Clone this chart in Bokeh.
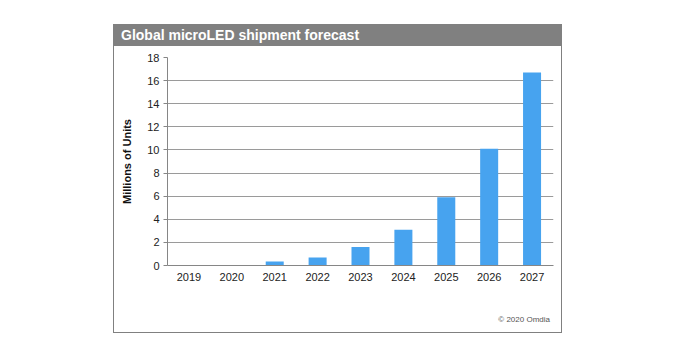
from bokeh.plotting import figure
from bokeh.models import Div, ColumnDataSource, Range1d, SingleIntervalTicker, FactorRange
from bokeh.layouts import column
from bokeh.embed import file_html
from bokeh.resources import INLINE

title = "Global microLED shipment forecast"
y_label = "Millions of Units"
source_note = "© 2020 Omdia"
years = ["2019", "2020", "2021", "2022", "2023", "2024", "2025", "2026", "2027"]
shipments = [0.0, 0.0, 0.35, 0.7, 1.6, 3.1, 5.9, 10.1, 16.7]

FONT = "Liberation Sans"

src = ColumnDataSource(data=dict(year=years, value=shipments))

p = figure(width=447, height=254, x_range=FactorRange(*years), y_range=Range1d(0, 18),
           output_backend="svg", toolbar_location=None, margin=0,
           min_border_left=53, min_border_right=8, min_border_top=11, min_border_bottom=35)
p.vbar(x="year", top="value", width=0.42, source=src, color="#47a3ef", line_color=None)

p.outline_line_color = None
p.xgrid.grid_line_color = None
p.ygrid.grid_line_color = "#9a9a9a"
p.ygrid.grid_line_width = 1

p.yaxis.ticker = SingleIntervalTicker(interval=2)
p.yaxis.minor_tick_line_color = None
p.yaxis.major_tick_in = 0
p.yaxis.major_tick_out = 4
p.yaxis.axis_line_color = "#868686"
p.yaxis.major_tick_line_color = "#868686"
p.yaxis.major_label_text_font = FONT
p.yaxis.major_label_text_font_size = "11px"
p.yaxis.major_label_text_color = "#222222"
p.yaxis.major_label_standoff = 4
p.yaxis.axis_label = y_label
p.yaxis.axis_label_text_font = FONT
p.yaxis.axis_label_text_font_size = "11px"
p.yaxis.axis_label_text_font_style = "bold"
p.yaxis.axis_label_text_color = "#111111"
p.yaxis.axis_label_standoff = 11

p.xaxis.axis_line_color = "#868686"
p.xaxis.major_tick_line_color = None
p.xaxis.major_tick_out = 4
p.xaxis.major_label_text_font = FONT
p.xaxis.major_label_text_font_size = "11px"
p.xaxis.major_label_text_color = "#222222"
p.xaxis.major_label_standoff = 3

head = Div(text=title, width=447, height=21, margin=0, styles={
    "background-color": "#808080", "color": "white", "font-family": FONT,
    "font-weight": "bold", "font-size": "14px", "line-height": "21px",
    "padding-left": "7px", "box-sizing": "border-box"})

foot = Div(text=source_note, width=447, height=32, margin=0, styles={
    "font-family": FONT, "font-size": "8px", "color": "#555555",
    "text-align": "right", "padding-right": "11px", "padding-top": "14px",
    "box-sizing": "border-box"})

layout = column(head, p, foot, spacing=0, margin=(24, 0, 0, 113),
                styles={"border": "1px solid #808080"})

open("out.html", "w").write(file_html(layout, INLINE))
